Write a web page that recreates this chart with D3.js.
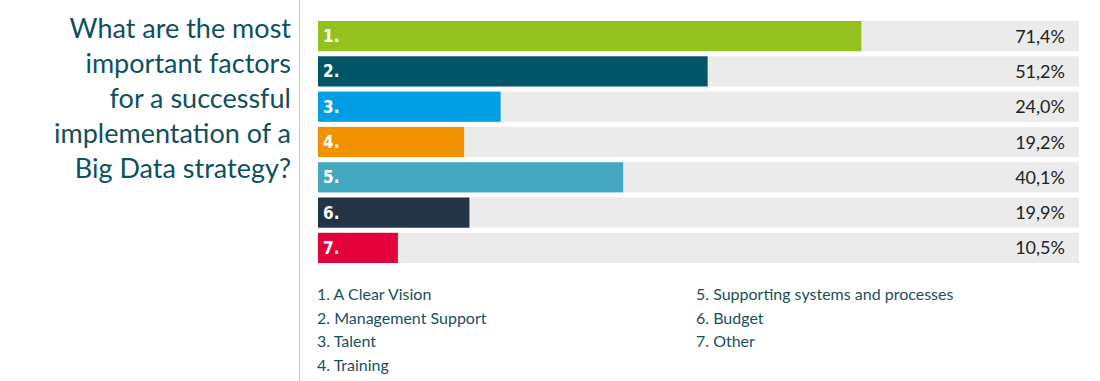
<!DOCTYPE html>
<html><head><meta charset="utf-8">
<script src="https://cdn.jsdelivr.net/npm/d3@7"></script>
<style>html,body{margin:0;padding:0;background:#fff;}svg{display:block;}</style>
</head><body>
<svg id="chart" width="1100" height="381"></svg>
<script>
const categories = ["1.", "2.", "3.", "4.", "5.", "6.", "7."];
const values = [71.4, 51.2, 24.0, 19.2, 40.1, 19.9, 10.5];
const valueLabels = ["71,4%", "51,2%", "24,0%", "19,2%", "40,1%", "19,9%", "10,5%"];
const colors = ["#95c11f", "#005566", "#009fe3", "#f39200", "#45a8c1", "#243447", "#e4003a"];
const titleLines = ["What are the most", "important factors", "for a successful", "implementation of a", "Big Data strategy?"];
const legendCol1 = ["1. A Clear Vision", "2. Management Support", "3. Talent", "4. Training"];
const legendCol2 = ["5. Supporting systems and processes", "6. Budget", "7. Other"];

const svg = d3.select("#chart");
const x = d3.scaleLinear().domain([0, 100]).range([318, 1079]);
const y = d3.scaleBand().domain(categories).range([21, 263]).paddingInner(0.145).paddingOuter(0);

// divider line
svg.append("line").attr("x1", 299.5).attr("x2", 299.5).attr("y1", 0).attr("y2", 381)
  .attr("stroke", "#a9d3de").attr("stroke-width", 1);

// title
svg.append("g").selectAll("text").data(titleLines).join("text")
  .attr("x", 291).attr("y", (d, i) => 38 + i * 35)
  .attr("text-anchor", "end").attr("font-family", "Lato, sans-serif")
  .attr("font-size", 27).attr("fill", "#0f5060").text(d => d);

const rows = svg.append("g").selectAll("g").data(categories).join("g");
rows.append("rect").attr("x", x(0)).attr("y", d => y(d))
  .attr("width", x(100) - x(0)).attr("height", y.bandwidth()).attr("fill", "#ebebeb");
rows.append("rect").attr("x", x(0)).attr("y", d => y(d))
  .attr("width", (d, i) => x(values[i]) - x(0)).attr("height", y.bandwidth())
  .attr("fill", (d, i) => colors[i]);
rows.append("text").attr("x", x(0) + 5).attr("y", d => y(d) + y.bandwidth() / 2 + 6)
  .attr("font-family", "'DejaVu Sans Condensed', 'DejaVu Sans', sans-serif").attr("font-weight", "bold")
  .attr("font-size", 17).attr("fill", "#fff").text(d => d);
rows.append("text").attr("x", 1065).attr("y", d => y(d) + y.bandwidth() / 2 + 6.5)
  .attr("text-anchor", "end").attr("font-family", "Lato, sans-serif")
  .attr("font-size", 18).attr("fill", "#222").text((d, i) => valueLabels[i]);

// legend
function legend(items, lx) {
  svg.append("g").selectAll("text").data(items).join("text")
    .attr("x", lx).attr("y", (d, i) => 300 + i * 23.6)
    .attr("font-family", "Lato, sans-serif").attr("font-size", 16)
    .attr("fill", "#1a4f5c").text(d => d);
}
legend(legendCol1, 317);
legend(legendCol2, 696);
</script>
</body></html>
